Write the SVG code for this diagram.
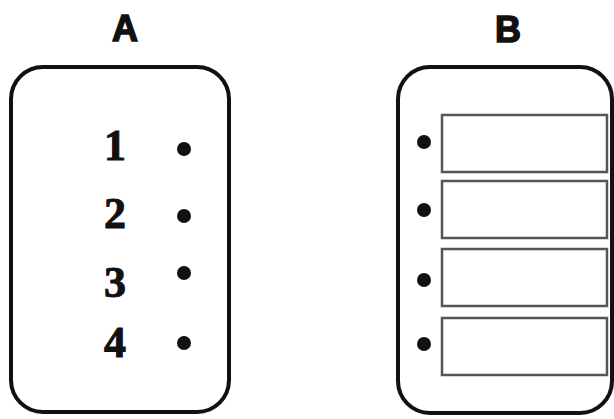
<svg xmlns="http://www.w3.org/2000/svg" width="614" height="419" viewBox="0 0 614 419">
<style>
.frame{fill:#fff;stroke:#111;stroke-width:4}
.slot{fill:#fff;stroke:#555;stroke-width:2.5}
.dot{fill:#111}
.title{font-family:"Liberation Sans",Arial,sans-serif;font-weight:900;font-size:36px;fill:#111;text-anchor:middle;stroke:#111;stroke-width:1.5}
.num{font-family:"Liberation Serif","Times New Roman",serif;font-weight:bold;font-size:44px;fill:#111;text-anchor:middle;stroke:#111;stroke-width:1}
</style>
<rect width="614" height="419" fill="#fff"/>
<g id="panelA">
<text class="title" x="125" y="41">A</text>
<rect class="frame" x="11" y="67" width="218" height="345" rx="32"/>
<text class="num" x="115" y="160">1</text>
<text class="num" x="115" y="228">2</text>
<text class="num" x="115" y="297">3</text>
<text class="num" x="115" y="357">4</text>
<circle class="dot" cx="184" cy="149" r="7"/>
<circle class="dot" cx="184" cy="216" r="7"/>
<circle class="dot" cx="184" cy="273" r="7"/>
<circle class="dot" cx="184" cy="343" r="7"/>
</g>
<g id="panelB">
<text class="title" x="508" y="42">B</text>
<rect class="frame" x="398" y="67" width="214" height="346" rx="32"/>
<rect class="slot" x="442" y="115" width="165" height="57"/>
<rect class="slot" x="442" y="181" width="165" height="57"/>
<rect class="slot" x="442" y="249" width="165" height="57"/>
<rect class="slot" x="442" y="318" width="165" height="57"/>
<circle class="dot" cx="424" cy="142" r="7"/>
<circle class="dot" cx="424" cy="210" r="7"/>
<circle class="dot" cx="424" cy="280" r="7"/>
<circle class="dot" cx="424" cy="344" r="7"/>
</g>
</svg>
